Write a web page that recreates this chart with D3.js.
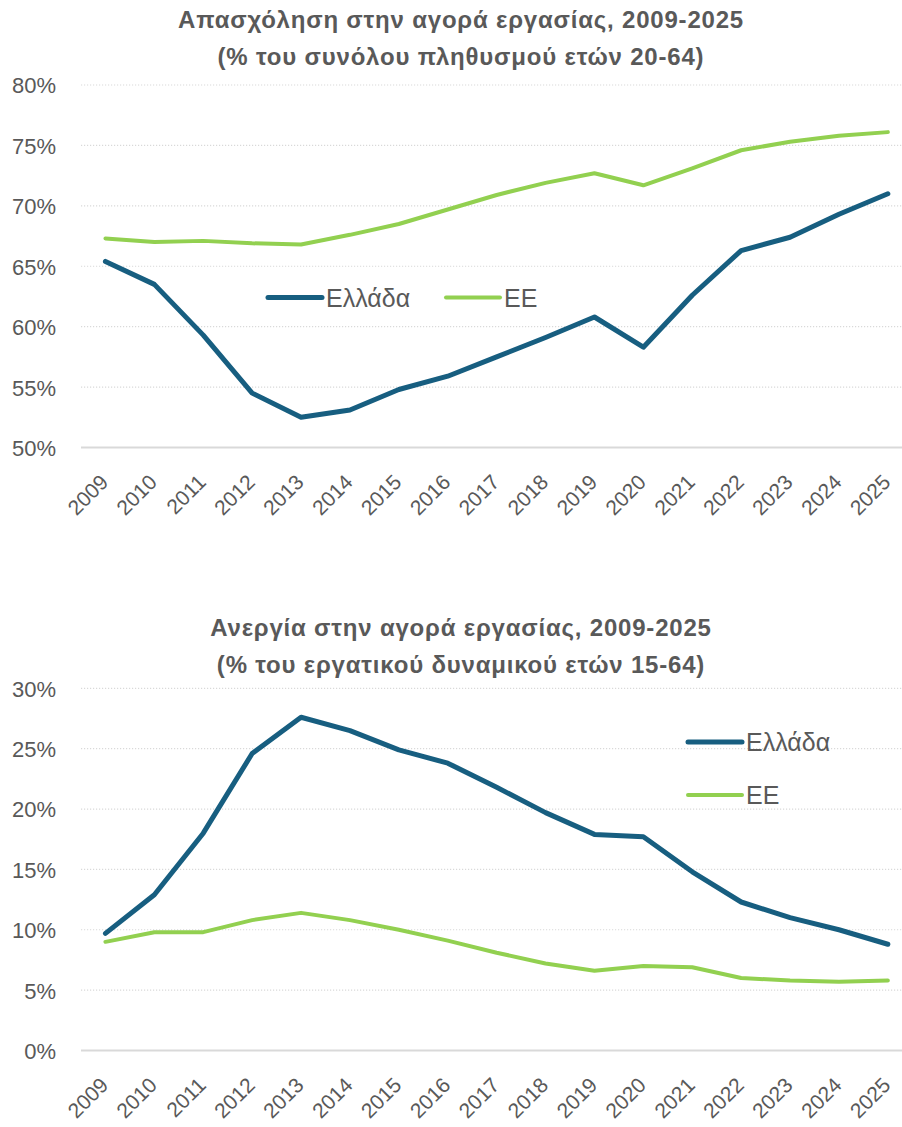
<!DOCTYPE html>
<html><head><meta charset="utf-8">
<script src="https://cdn.jsdelivr.net/npm/d3@7"></script>
<style>
body{margin:0;background:#fff;}
svg text{font-family:"Liberation Sans",Arial,sans-serif;fill:#595959;}
</style></head>
<body><svg id="c" width="902" height="1127"></svg>
<script>
const years = ["2009","2010","2011","2012","2013","2014","2015","2016","2017","2018","2019","2020","2021","2022","2023","2024","2025"];
const empGreece = [65.4,63.5,59.3,54.5,52.5,53.1,54.8,55.9,57.5,59.1,60.8,58.3,62.6,66.3,67.4,69.3,71.0];
const empEU = [67.3,67.0,67.1,66.9,66.8,67.6,68.5,69.7,70.9,71.9,72.7,71.7,73.1,74.6,75.3,75.8,76.1];
const unGreece = [9.7,12.9,18.0,24.6,27.6,26.5,24.9,23.8,21.8,19.7,17.9,17.7,14.8,12.3,11.0,10.0,8.8];
const unEU = [9.0,9.8,9.8,10.8,11.4,10.8,10.0,9.1,8.1,7.2,6.6,7.0,6.9,6.0,5.8,5.7,5.8];
const empTicks = [50,55,60,65,70,75,80];
const unTicks = [0,5,10,15,20,25,30];
const seriesNames = ["Ελλάδα","ΕΕ"];
const colors = ["#175e80","#92d050"];
const widths = [5,4];

const svg = d3.select("#c");

function chart(cfg){
  const g = svg.append("g");
  const x = d3.scaleBand().domain(years).range([81, 81+17*48.9]);
  const y = d3.scaleLinear().domain(cfg.domain).range([cfg.bottom, cfg.top]);
  cfg.title.forEach((t,i)=>{
    g.append("text").attr("x",461).attr("y",cfg.titleY+i*37).attr("text-anchor","middle")
      .attr("font-size",24).attr("font-weight","bold").attr("letter-spacing",0.8).text(t);
  });
  cfg.ticks.forEach((t,i)=>{
    g.append("line").attr("x1",81).attr("x2",902).attr("y1",y(t)).attr("y2",y(t))
      .attr("stroke","#d9d9d9").attr("stroke-width",i===0?2:1.2)
      .attr("stroke-dasharray",i===0?null:"1.2,1.8");
  });
  const yAxis = d3.axisLeft(y).tickValues(cfg.ticks).tickSize(0).tickPadding(0).tickFormat(d=>d+"%");
  g.append("g").attr("transform","translate(56,0)").call(yAxis)
    .call(a=>a.select(".domain").remove())
    .selectAll("text").attr("font-size",22).attr("dy","0.36em").attr("font-family",null).attr("fill","#595959");
  const xAxis = d3.axisBottom(x).tickSize(0).tickPadding(0);
  const xa = g.append("g").attr("transform",`translate(0,${cfg.bottom})`).call(xAxis);
  xa.select(".domain").remove();
  xa.selectAll("text").attr("font-size",21).attr("font-family",null).attr("fill","#595959")
    .attr("text-anchor","end").attr("dy",null).attr("y",null)
    .attr("transform","translate(4,36) rotate(-45)");
  const line = d3.line().x((d,i)=>x(years[i])+x.bandwidth()/2).y(d=>y(d));
  [cfg.a,cfg.b].forEach((s,k)=>{
    g.append("path").datum(s).attr("d",line).attr("fill","none")
      .attr("stroke",colors[k]).attr("stroke-width",widths[k])
      .attr("stroke-linejoin","round").attr("stroke-linecap","round");
  });
  cfg.legend.forEach((L,k)=>{
    g.append("line").attr("x1",L[0]).attr("x2",L[0]+54).attr("y1",L[1]).attr("y2",L[1])
      .attr("stroke",colors[k]).attr("stroke-width",widths[k]).attr("stroke-linecap","round");
    g.append("text").attr("x",L[0]+58).attr("y",L[1]).attr("dy","0.36em")
      .attr("font-size",25).text(seriesNames[k]);
  });
}

chart({domain:[50,80],ticks:empTicks,top:85,bottom:447.5,titleY:28,
  title:["Απασχόληση στην αγορά εργασίας, 2009-2025","(% του συνόλου πληθυσμού ετών 20-64)"],
  a:empGreece,b:empEU,legend:[[268,297.5],[446,297.5]]});
chart({domain:[0,30],ticks:unTicks,top:688.3,bottom:1050.5,titleY:636,
  title:["Ανεργία στην αγορά εργασίας, 2009-2025","(% του εργατικού δυναμικού ετών 15-64)"],
  a:unGreece,b:unEU,legend:[[688,742],[688,795]]});
</script></body></html>
